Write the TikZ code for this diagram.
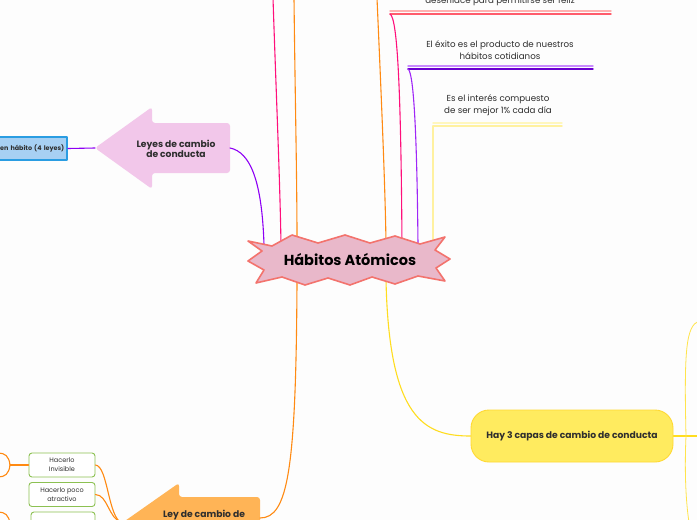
\documentclass[tikz,border=0pt]{standalone}
\usepackage{fontspec}
\setmainfont{Poppins}
\setsansfont{Poppins}
\definecolor{paper}{HTML}{FDFDFD}
\definecolor{ink}{HTML}{2E2E2E}
\definecolor{starfill}{HTML}{E9B8CA}
\definecolor{staredge}{HTML}{F3736D}
\definecolor{leypink}{HTML}{F2C7EA}
\definecolor{crearfill}{HTML}{A7D0F3}
\definecolor{crearedge}{HTML}{2A9DE2}
\definecolor{vio}{HTML}{8E00F5}
\definecolor{rosa}{HTML}{FF0F7B}
\definecolor{naranja}{HTML}{FF8A12}
\definecolor{leyorange}{HTML}{FFB456}
\definecolor{leafgreen}{HTML}{8CC152}
\definecolor{capfill}{HTML}{FFEB5F}
\definecolor{capedge}{HTML}{FFD933}
\definecolor{amarillo}{HTML}{FFDD1F}
\definecolor{palido}{HTML}{FFF1A0}
\definecolor{pinklite}{HTML}{FFB0B0}
\definecolor{pinkdark}{HTML}{FF5C6C}
\definecolor{purplelite}{HTML}{C98BFF}
\definecolor{purpledark}{HTML}{6A00D0}
\definecolor{yellowlite}{HTML}{FFF7BE}

\begin{document}
\begin{tikzpicture}[x=1pt,y=-1pt,font=\sffamily,text=ink,line cap=round,line join=round,
  link/.style={line width=1.1pt},
  lobe/.style={font=\bfseries\fontsize{9.2}{10}\selectfont,align=center},
  topic/.style={font=\fontsize{8.7}{12}\selectfont,align=center},
  leaf/.style={draw=leafgreen,line width=0.9pt,rounded corners=3pt,fill=white,
    minimum width=66pt,minimum height=24pt,inner sep=1pt,align=center,
    font=\fontsize{6.5}{9}\selectfont}]
  \useasboundingbox (0,0) rectangle (697,520);
  \clip (0,0) rectangle (697,520);
  \fill[paper] (0,0) rectangle (697,520);

  \coordinate (hubA) at (264,245);
  \coordinate (hubB) at (281,245);
  \coordinate (hubC) at (297,240);
  \coordinate (hubD) at (386,242);
  \coordinate (hubE) at (402,245);
  \coordinate (hubF) at (418,245);
  \coordinate (hubG) at (433,247);
  \coordinate (hubH) at (386,280);
  \coordinate (hubI) at (297,282);

  % ramas hacia arriba
  \coordinate (topA) at (273,-2);
  \coordinate (topB) at (294,-2);
  \coordinate (topC) at (377,-2);
  \draw[link,rosa] (topA) .. controls (276,90) and (280,180) .. (hubB);
  \draw[link,naranja] (topB) .. controls (295,90) and (297,180) .. (hubC);
  \draw[link,naranja] (topC) .. controls (381,90) and (385,180) .. (hubD);

  \node[topic,anchor=base] (feliz) at (500,3.5) {desenlace para permitirse ser feliz};
  \draw[line width=1.4pt,pinklite] (390,11) -- (611,11);
  \draw[line width=1.4pt,pinkdark] (390,14) -- (611,14);
  \coordinate (felizL) at (390,14);
  \draw[link,rosa] (felizL) .. controls (398,18) and (401,100) .. (hubE);

  \node[topic] (exito) at (500,50) {El éxito es el producto de nuestros\\hábitos cotidianos};
  \draw[line width=1.4pt,purplelite] (408,66) -- (593,66);
  \draw[line width=1.4pt,purpledark] (408,69) -- (593,69);
  \coordinate (exitoL) at (408,69);
  \draw[link,vio!85] (exitoL) .. controls (414,72) and (417,140) .. (hubF);

  \node[topic] (interes) at (498,105.5) {Es el interés compuesto\\de ser mejor 1\% cada día};
  \draw[line width=1.4pt,yellowlite] (433,123) -- (562,123);
  \draw[line width=1.4pt,palido] (433,126) -- (562,126);
  \coordinate (interesL) at (433,126);
  \draw[link,palido] (interesL) -- (hubG);

  % leyes de cambio
  \fill[leypink,rounded corners=3pt] (95,148) -- (152,107) -- (152,123) -- (230,123)
    -- (230,173) -- (152,173) -- (152,189) -- cycle;
  \node[lobe] (leyes) at (176,149) {Leyes de cambio\\de conducta};
  \coordinate (leyTip) at (95,148);
  \coordinate (leyR) at (230,148);
  \draw[link,vio] (leyR) .. controls (250,152) and (262,180) .. (hubA);
  \node[draw=crearedge,fill=crearfill,line width=1.6pt,anchor=east,text width=90pt,
    align=right,minimum height=23pt,inner sep=3pt,
    font=\bfseries\fontsize{6.4}{7}\selectfont] (crear) at (68,148.5) {en hábito (4 leyes)};
  \draw[link,vio] (crear.east) -- (leyTip);

  % ley de cambio (abajo)
  \fill[leyorange,rounded corners=3pt] (122,523) -- (179,483) -- (179,497) -- (260,497)
    -- (260,549) -- (179,549) -- (179,563) -- cycle;
  \node[lobe] (leyor) at (204,515) {Ley de cambio de};
  \coordinate (orTip) at (122,523);
  \coordinate (orR) at (260,518);
  \draw[link,naranja] (hubI) .. controls (296,470) and (288,518) .. (orR);

  \node[leaf] (b1) at (62,465) {Hacerlo\\Invisible};
  \node[leaf] (b2) at (62,494.5) {Hacerlo poco\\atractivo};
  \node[leaf,minimum width=64pt] (b3) at (63,524) {};
  \draw[link,naranja] (b1.east) .. controls (108,466) and (108,518) .. (orTip);
  \draw[link,naranja] (b2.east) .. controls (108,495) and (108,518) .. (orTip);
  \draw[link,naranja] (b3.east) .. controls (108,524) .. (orTip);

  \coordinate (b1j) at (10,465);
  \coordinate (b1up) at (-2,453);
  \coordinate (b1dn) at (-2,477);
  \draw[link,naranja] (b1.west) -- (b1j);
  \draw[link,naranja] (b1j) .. controls (9,456) and (5,453) .. (b1up);
  \draw[link,naranja] (b1j) .. controls (9,474) and (5,477) .. (b1dn);
  \coordinate (b3j) at (10,524);
  \coordinate (b3up) at (-2,512);
  \draw[link,naranja] (b3.west) -- (b3j);
  \draw[link,naranja] (b3j) .. controls (9,515) and (5,512) .. (b3up);

  % capas
  \node[draw=capedge,fill=capfill,line width=0.9pt,rounded corners=18pt,
    minimum width=202pt,minimum height=52pt,inner sep=0pt,lobe] (capas) at (572,436)
    {Hay 3 capas de cambio de conducta};
  \draw[link,amarillo] (hubH) .. controls (389,420) and (425,436) .. (capas.west);
  \coordinate (capJ) at (686,436);
  \coordinate (capR) at (699,436);
  \coordinate (capUp) at (699,321);
  \coordinate (capDn) at (689,522);
  \draw[link,amarillo] (capas.east) -- (capR);
  \draw[line width=0.8pt,amarillo!80] (capJ) .. controls (684,350) and (686,326) .. (capUp);
  \draw[line width=0.8pt,amarillo!80] (capJ) .. controls (684,480) and (687,510) .. (capDn);

  % nodo central
  \draw[staredge,fill=starfill,line width=1.6pt] (248,241) -- (272,246) -- (292,235)
    -- (318,243) -- (345,235) -- (370,243) -- (395,236) -- (420,244) -- (445,237)
    -- (435,250) -- (450,259) -- (436,268) -- (445,281) -- (418,276) -- (395,284)
    -- (372,277) -- (350,285) -- (328,278) -- (305,285) -- (282,277) -- (256,283)
    -- (264,270) -- (248,261) -- (262,251) -- cycle;
  \node[font=\bfseries\fontsize{14.5}{16}\selectfont,text=black] (habitos) at (350,260)
    {Hábitos Atómicos};
\end{tikzpicture}
\end{document}
